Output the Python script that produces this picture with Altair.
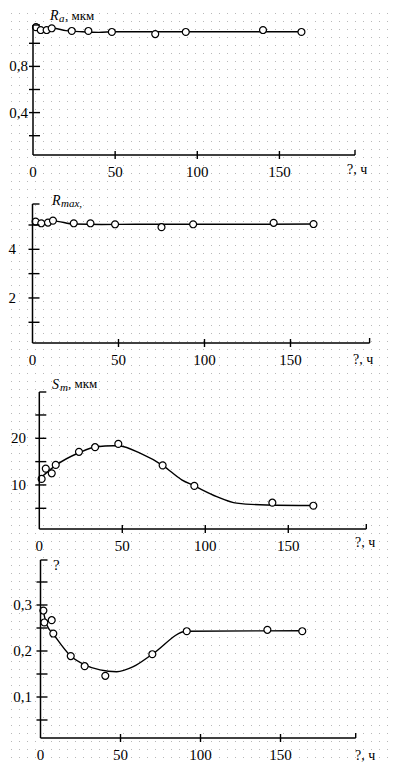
import altair as alt
import pandas as pd

# ---------------- data ----------------
# Panel 1: Ra, мкм
ra_t = [1.8, 4.7, 8.3, 11.4, 23.6, 33.7, 48, 74.4, 93, 140, 163.4]
ra_v = [1.14, 1.115, 1.115, 1.13, 1.107, 1.107, 1.098, 1.08, 1.098, 1.115, 1.098]
ra_line_t = [0, 4, 8, 12, 20, 30, 40, 50, 100, 165]
ra_line_v = [1.13, 1.115, 1.115, 1.13, 1.11, 1.1, 1.095, 1.1, 1.1, 1.1]

# Panel 2: Rmax
rm_t = [1.8, 5.1, 9, 11.9, 24, 33.7, 48, 75, 93.4, 140.2, 163.4]
rm_v = [5.14, 5.07, 5.1, 5.18, 5.07, 5.07, 5.03, 4.91, 5.03, 5.09, 5.04]
rm_line_t = [0, 4, 8, 12, 24, 40, 60, 100, 165]
rm_line_v = [5.12, 5.08, 5.1, 5.17, 5.04, 5.02, 5.03, 5.03, 5.04]

# Panel 3: Sm, мкм
sm_t = [1.4, 3.9, 7.5, 9.9, 23.9, 33.6, 47.6, 74.3, 93.4, 140.4, 165.1]
sm_v = [11.3, 13.5, 12.5, 14.3, 17.1, 18.1, 18.8, 14.2, 9.8, 6.2, 5.55]
sm_line_t = [0.4, 9.5, 23.9, 34.6, 44.6, 48.6, 60.7, 74.7, 85.8, 93.4, 106.9, 118.9, 137, 165.2]
sm_line_v = [11.4, 14.1, 16.9, 18.2, 18.4, 18.35, 16.8, 14.1, 11.1, 9.8, 7.5, 6.1, 5.7, 5.6]

# Panel 4: ?
q_t = [1.8, 2.4, 7, 8, 18.9, 27.6, 40.5, 69.9, 91.4, 141.8, 163.6]
q_v = [0.288, 0.262, 0.267, 0.238, 0.189, 0.167, 0.146, 0.193, 0.243, 0.246, 0.243]
q_line_t = [1.8, 3.9, 8, 18.9, 27.6, 37.2, 47.6, 58, 69.9, 91.4, 163.6]
q_line_v = [0.285, 0.257, 0.237, 0.189, 0.17, 0.159, 0.155, 0.166, 0.193, 0.243, 0.244]

# tick values / labels
x_tick_vals = [50, 100, 150]
x_label_vals = [0, 50, 100, 150]
ra_ticks = [0.2, 0.4, 0.6, 0.8, 1.0]
ra_labels = [0.4, 0.8]
rm_ticks = [1, 2, 3, 4, 5]
rm_labels = [2, 4]
sm_ticks = [5, 10, 15, 20, 25]
sm_labels = [10, 20]
q_ticks = [0.05, 0.1, 0.15, 0.2, 0.25, 0.3, 0.35]
q_labels = [0.1, 0.2, 0.3]

FONT = "'Liberation Serif', 'Times New Roman', 'DejaVu Serif', serif"
ONE = pd.DataFrame({"d": [0]})


def fmt(v, dec):
    if dec == 0:
        return str(int(round(v)))
    return f"{v:.{dec}f}".replace(".", ",")


def panel(cfg):
    xs = alt.Scale(domain=cfg["xdom"], range=cfg["xr"], nice=False, zero=False)
    ys = alt.Scale(domain=cfg["ydom"], range=cfg["yr"], nice=False, zero=False)
    ox, top, bot, xend = cfg["ox"], cfg["top"], cfg["bot"], cfg["xr"][1]

    def X(f="t"):
        return alt.X(f"{f}:Q", scale=xs, axis=None)

    def Y(f="v"):
        return alt.Y(f"{f}:Q", scale=ys, axis=None)

    line = alt.Chart(pd.DataFrame({"t": cfg["lt"], "v": cfg["lv"]})).mark_line(
        interpolate="monotone", color="black", strokeWidth=1.4
    ).encode(x=X(), y=Y())
    pts = alt.Chart(pd.DataFrame({"t": cfg["pt"], "v": cfg["pv"]})).mark_point(
        shape="circle", filled=True, fill="white", stroke="black", strokeWidth=1.2,
        size=48, opacity=1
    ).encode(x=X(), y=Y())

    yt = alt.Chart(pd.DataFrame({"v": cfg["yticks"]})).mark_rule(
        color="black", strokeWidth=1.4
    ).encode(y=Y(), x=alt.value(ox - 4), x2=alt.value(ox + 7))
    yl = alt.Chart(pd.DataFrame({
        "v": cfg["ylabels"], "s": [fmt(v, cfg["dec"]) for v in cfg["ylabels"]]
    })).mark_text(
        align="right", baseline="middle", font=FONT, fontSize=15, color="black"
    ).encode(y=Y(), x=alt.value(cfg["labx"]), text="s:N")

    xt = alt.Chart(pd.DataFrame({"t": x_tick_vals})).mark_rule(
        color="black", strokeWidth=1.4
    ).encode(x=X(), y=alt.value(bot - 4), y2=alt.value(bot + 4))
    xl = alt.Chart(pd.DataFrame({
        "t": x_label_vals, "s": [str(v) for v in x_label_vals]
    })).mark_text(
        align="center", baseline="middle", font=FONT, fontSize=15, color="black"
    ).encode(x=X(), y=alt.value(bot + 17), text="s:N")

    base = alt.Chart(ONE)
    yaxis = base.mark_rule(color="black", strokeWidth=1.5).encode(
        x=alt.value(ox), y=alt.value(top), y2=alt.value(bot))
    xaxis = base.mark_rule(color="black", strokeWidth=1.5).encode(
        x=alt.value(ox), x2=alt.value(xend), y=alt.value(bot))
    toptick = base.mark_rule(color="black", strokeWidth=1.4).encode(
        x=alt.value(ox), x2=alt.value(ox + 7), y=alt.value(top))
    endtick = base.mark_rule(color="black", strokeWidth=1.4).encode(
        x=alt.value(xend), y=alt.value(bot - 5), y2=alt.value(bot))
    xname = base.mark_text(
        text="?, ч", align="left", baseline="middle", font=FONT, fontSize=14, color="black"
    ).encode(x=alt.value(cfg["xname"][0]), y=alt.value(cfg["xname"][1]))

    layers = [line, pts, yaxis, xaxis, toptick, endtick, yt, yl, xt, xl, xname]
    for (txt, x, y, size, style) in cfg["title"]:
        layers.append(base.mark_text(
            text=txt, align="left", baseline="alphabetic", font=FONT,
            fontSize=size, fontStyle=style, color="black"
        ).encode(x=alt.value(x), y=alt.value(y)))
    return alt.layer(*layers)


p1 = panel(dict(
    xdom=[0, 196], xr=[25, 347], ydom=[0, 1], yr=[150.8, 35.3],
    ox=25, top=17, bot=147, labx=20, dec=1,
    pt=ra_t, pv=ra_v, lt=ra_line_t, lv=ra_line_v,
    yticks=ra_ticks, ylabels=ra_labels, xname=(339, 162),
    title=[("R", 42, 12, 14, "italic"), ("a", 51, 14, 11, "italic"),
           (", мкм", 57, 12, 13, "normal")],
))
p2 = panel(dict(
    xdom=[0, 196], xr=[24.5, 361.6], ydom=[0, 5], yr=[338.6, 217],
    ox=24.5, top=196, bot=335, labx=8, dec=0,
    pt=rm_t, pv=rm_v, lt=rm_line_t, lv=rm_line_v,
    yticks=rm_ticks, ylabels=rm_labels, xname=(345, 352),
    title=[("R", 44, 197, 14, "italic"), ("max,", 53, 199, 11, "italic")],
))
p3 = panel(dict(
    xdom=[0, 197], xr=[31.3, 358.3], ydom=[0, 20], yr=[523.6, 430.3],
    ox=31.3, top=384, bot=521, labx=18, dec=0,
    pt=sm_t, pv=sm_v, lt=sm_line_t, lv=sm_line_v,
    yticks=sm_ticks, ylabels=sm_labels, xname=(347, 535),
    title=[("S", 44, 381, 14, "italic"), ("m", 52, 383, 11, "italic"),
           (", мкм", 60, 380, 13, "normal")],
))
p4 = panel(dict(
    xdom=[0, 197], xr=[32.5, 347.7], ydom=[0, 0.3], yr=[735, 597],
    ox=32.5, top=552, bot=730, labx=24, dec=1,
    pt=q_t, pv=q_v, lt=q_line_t, lv=q_line_v,
    yticks=q_ticks, ylabels=q_labels, xname=(347, 748),
    title=[("?", 45, 562, 15, "normal")],
))

# light dotted paper background
dots = alt.Chart(alt.sequence(0, 49, as_="k")).mark_rule(
    color="#b8b8b8", strokeWidth=1, strokeDash=[1, 7], opacity=1
).encode(
    x=alt.X("k:Q", scale=alt.Scale(domain=[0, 48], range=[3.5, 387.5], nice=False, zero=False), axis=None),
    y=alt.value(5), y2=alt.value(765),
)

chart = alt.layer(dots, p1, p2, p3, p4).resolve_scale(
    x="independent", y="independent"
).properties(
    width=383, height=757, padding=0, autosize="none"
).configure_view(stroke=None)

chart.save("out.html", embed_options={"renderer": "svg", "actions": False})
